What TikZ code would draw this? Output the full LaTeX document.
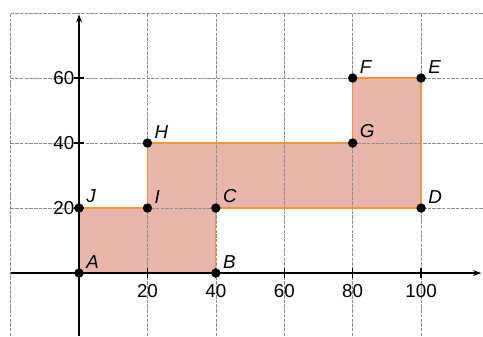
\documentclass[tikz,border=0pt]{standalone}
\usepackage{fontspec}
\setmainfont{Liberation Sans}
\usetikzlibrary{arrows.meta}
\definecolor{shapefill}{RGB}{232,182,170}
\definecolor{shapeline}{RGB}{242,150,60}
\definecolor{gridgray}{RGB}{140,140,140}
\begin{document}
\begin{tikzpicture}[x=0.1026cm,y=0.0975cm,
  gridline/.style={gridgray,line width=0.5pt,dash pattern=on 3pt off 1pt},
  axisline/.style={black,line width=1.1pt},
  outline/.style={shapeline,line width=1.1pt,fill=shapefill},
  dot/.style={circle,fill=black,inner sep=0pt,minimum size=8pt},
  ptlabel/.style={font=\fontsize{16}{16}\selectfont\itshape,anchor=south west,inner sep=1pt,xshift=5pt,yshift=3pt},
  ticklabel/.style={font=\fontsize{16}{16}\selectfont,inner sep=1pt}]
\useasboundingbox (-23.1,-19.4) rectangle (118.1,84.0);
% shape
\fill[shapefill] (0,0) -- (40,0) -- (40,20) -- (100,20) -- (100,60) -- (80,60) -- (80,40) -- (20,40) -- (20,20) -- (0,20) -- cycle;
% grid
\begin{scope}
\clip (-21,-19.4) rectangle (118.1,80.5);
\foreach \x in {-20,20,40,60,80,100} \draw[gridline] (\x,-19.4) -- (\x,80);
\foreach \y in {20,40,60,80} \draw[gridline] (-20,\y) -- (118.1,\y);
\end{scope}
% outline on top of grid
\draw[shapeline,line width=1.1pt] (0,0) -- (40,0) -- (40,20) -- (100,20) -- (100,60) -- (80,60) -- (80,40) -- (20,40) -- (20,20) -- (0,20) -- cycle;
% axes
\coordinate (xs) at (-20,0);
\coordinate (xe) at (117.6,0);
\coordinate (ys) at (0,-19.4);
\coordinate (ye) at (0,79.6);
\draw[axisline,-{Stealth[length=7pt,width=5pt]}] (xs) -- (xe);
\draw[axisline,-{Stealth[length=7pt,width=5pt]}] (ys) -- (ye);
% ticks
\foreach \x in {20,40,60,80,100} {
  \draw[axisline] (\x,-1.6) -- (\x,1.6);
  \node[ticklabel,anchor=north] (tx\x) at (\x,-3.2) {\x};
}
\foreach \y in {20,40,60} {
  \draw[axisline] (-1.6,\y) -- (1.6,\y);
  \node[ticklabel,anchor=east] (ty\y) at (-1.0,\y) {\y};
}
% points
\node[dot] (A) at (0,0) {};
\node[dot] (B) at (40,0) {};
\node[dot] (C) at (40,20) {};
\node[dot] (D) at (100,20) {};
\node[dot] (E) at (100,60) {};
\node[dot] (F) at (80,60) {};
\node[dot] (G) at (80,40) {};
\node[dot] (H) at (20,40) {};
\node[dot] (I) at (20,20) {};
\node[dot] (J) at (0,20) {};
\foreach \p in {A,B,C,D,E,F,G,H,I,J}
  \node[ptlabel] (l\p) at (\p.center) {\p};
\end{tikzpicture}
\end{document}
